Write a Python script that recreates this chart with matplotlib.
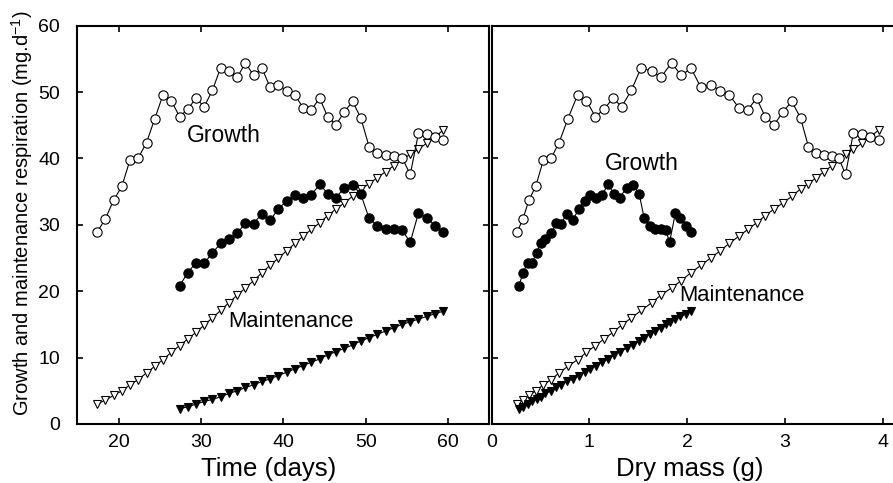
import matplotlib
matplotlib.use("Agg")
import matplotlib.pyplot as plt

plt.rcParams['font.family'] = ['Liberation Sans', 'DejaVu Sans']
plt.rcParams['mathtext.fontset'] = 'custom'
plt.rcParams['mathtext.rm'] = 'Liberation Sans'
plt.rcParams['mathtext.it'] = 'Liberation Sans:italic'

# plant A (open symbols), days 17.4 .. 59.4
days_a = [17.4, 18.4, 19.4, 20.4, 21.4, 22.4, 23.4, 24.4, 25.4, 26.4, 27.4,
          28.4, 29.4, 30.4, 31.4, 32.4, 33.4, 34.4, 35.4, 36.4, 37.4, 38.4,
          39.4, 40.4, 41.4, 42.4, 43.4, 44.4, 45.4, 46.4, 47.4, 48.4, 49.4,
          50.4, 51.4, 52.4, 53.4, 54.4, 55.4, 56.4, 57.4, 58.4, 59.4]
mass_a = [0.26, 0.32, 0.38, 0.45, 0.53, 0.61, 0.69, 0.78, 0.88, 0.97, 1.06,
          1.15, 1.24, 1.33, 1.43, 1.53, 1.64, 1.73, 1.84, 1.94, 2.04, 2.14,
          2.24, 2.34, 2.43, 2.53, 2.62, 2.71, 2.80, 2.89, 2.98, 3.07, 3.16,
          3.24, 3.32, 3.40, 3.48, 3.55, 3.62, 3.70, 3.79, 3.87, 3.96]
growth_a = [28.9, 30.9, 33.7, 35.8, 39.8, 40.1, 42.4, 46.0, 49.6, 48.7, 46.3,
            47.4, 49.1, 47.8, 50.3, 53.7, 53.1, 52.2, 54.4, 52.5, 53.6, 50.7,
            51.1, 50.2, 49.6, 47.6, 47.3, 49.1, 46.2, 45.1, 47.0, 48.6, 46.1,
            41.8, 40.8, 40.5, 40.3, 40.1, 37.6, 43.8, 43.7, 43.2, 42.8]
maint_a = [3.0, 3.6, 4.3, 5.0, 5.9, 6.7, 7.7, 8.7, 9.7, 10.8, 11.8,
           12.8, 13.8, 14.9, 16.0, 17.1, 18.3, 19.4, 20.5, 21.6, 22.8, 23.9,
           25.0, 26.1, 27.2, 28.3, 29.3, 30.3, 31.4, 32.4, 33.3, 34.3, 35.4,
           36.2, 37.1, 38.0, 38.9, 39.9, 40.6, 41.4, 42.3, 43.2, 44.3]

# plant B (filled symbols), days 27.4 .. 59.4
days_b = [27.4, 28.4, 29.4, 30.4, 31.4, 32.4, 33.4, 34.4, 35.4, 36.4, 37.4,
          38.4, 39.4, 40.4, 41.4, 42.4, 43.4, 44.4, 45.4, 46.4, 47.4, 48.4,
          49.4, 50.4, 51.4, 52.4, 53.4, 54.4, 55.4, 56.4, 57.4, 58.4, 59.4]
mass_b = [0.28, 0.32, 0.37, 0.41, 0.46, 0.50, 0.55, 0.61, 0.66, 0.71, 0.77,
          0.83, 0.89, 0.95, 1.01, 1.07, 1.13, 1.19, 1.25, 1.31, 1.38, 1.45,
          1.51, 1.56, 1.62, 1.67, 1.73, 1.78, 1.82, 1.88, 1.93, 1.99, 2.04]
growth_b = [20.8, 22.8, 24.3, 24.2, 25.8, 27.2, 27.8, 28.7, 30.3, 30.2, 31.7,
            30.7, 32.4, 33.6, 34.5, 34.1, 34.5, 36.1, 34.7, 34.1, 35.6, 36.0,
            34.6, 31.0, 29.9, 29.4, 29.3, 29.2, 27.4, 31.8, 31.1, 29.9, 28.9]
maint_b = [2.3, 2.6, 3.0, 3.4, 3.7, 4.1, 4.6, 5.0, 5.5, 5.9, 6.4,
           6.8, 7.3, 7.8, 8.3, 8.8, 9.3, 9.8, 10.4, 10.9, 11.4, 11.9,
           12.5, 13.0, 13.5, 14.0, 14.5, 15.0, 15.4, 15.8, 16.2, 16.6, 17.0]

fig = plt.figure(figsize=(8.93, 4.83), dpi=100)
ax1 = fig.add_axes([0.0866, 0.1222, 0.4614, 0.8246])
ax2 = fig.add_axes([0.5506, 0.1222, 0.4572, 0.8246])

line = dict(color='black', lw=0.8, mew=0.8, mec='black')


def draw(ax, xa, xb):
    ax.plot(xa, maint_a, marker='v', ms=6, mfc='white', **line)
    ax.plot(xb, maint_b, marker='v', ms=6, mfc='black', **line)
    ax.plot(xa, growth_a, marker='o', ms=6.7, mfc='white', **line)
    ax.plot(xb, growth_b, marker='o', ms=6.7, mfc='black', **line)
    ax.set_ylim(0, 60)
    ax.set_yticks(range(0, 61, 10))
    ax.tick_params(direction='in', top=True, right=True, length=4,
                   width=1.2, labelsize=14)
    ax.tick_params(axis='x', pad=7)
    ax.tick_params(axis='y', pad=12.5)
    for s in ax.spines.values():
        s.set_linewidth(1.5)


draw(ax1, days_a, days_b)
ax1.set_xlim(15, 65)
ax1.set_xticks([20, 30, 40, 50, 60])
ax1.set_xlabel('Time (days)', fontsize=18.5)
ax1.xaxis.set_label_coords(0.465, -0.083)
ax1.text(32.8, 43.4, 'Growth', fontsize=16.5, ha='center', va='center')
ax1.text(40.9, 15.4, 'Maintenance', fontsize=15.8, ha='center', va='center')

draw(ax2, mass_a, mass_b)
ax2.set_xlim(0, 4.177)
ax2.set_xticks([0, 1, 2, 3, 4])
ax2.set_yticklabels([])
ax2.set_xlabel('Dry mass (g)', fontsize=18.5)
ax2.xaxis.set_label_coords(0.486, -0.083)
ax2.text(1.54, 39.3, 'Growth', fontsize=16.5, ha='center', va='center')
ax2.text(2.56, 19.3, 'Maintenance', fontsize=15.8, ha='center', va='center')

fig.text(0.0246, 0.559, 'Growth and maintenance respiration (mg.d$^{-1}$)',
         rotation=90, ha='center', va='center', fontsize=14.5)

fig.savefig('out.png', dpi=100)
